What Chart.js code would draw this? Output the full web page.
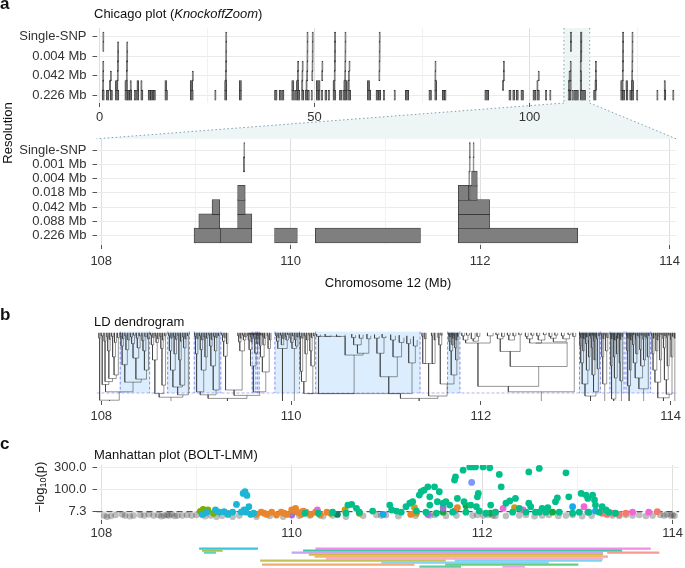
<!DOCTYPE html>
<html>
<head>
<meta charset="utf-8">
<script src="https://cdn.jsdelivr.net/npm/chart.js@4.4.1/dist/chart.umd.min.js"></script>
<style>
html, body { margin: 0; padding: 0; background: #fff; }
#fig { position: relative; width: 685px; height: 568px; overflow: hidden;
       font-family: "Liberation Sans", Arial, Helvetica, sans-serif; color: #111; }
#fig canvas { position: absolute; left: 0; }
.txt { position: absolute; white-space: nowrap; line-height: 1; font-size: 13px; }
.lbl { position: absolute; font-weight: bold; font-size: 17px; line-height: 1; }
.rot { position: absolute; width: 80px; text-align: center; white-space: nowrap; line-height: 13px; font-size: 13px;
       font-weight: normal; color: #111; transform-origin: 0 0; transform: rotate(-90deg); }
.rot sub { font-size: 9px; line-height: 0; vertical-align: -2px; }
</style>
</head>
<body>
<div id="fig">
  <canvas id="link" width="685" height="300" style="top:0"></canvas>
  <canvas id="chicagoAll" width="685" height="125" style="top:0"></canvas>
  <canvas id="chicagoZoom" width="685" height="145" style="top:125px"></canvas>
  <canvas id="dendro" width="685" height="125" style="top:300px"></canvas>
  <canvas id="manhattan" width="685" height="115" style="top:425px"></canvas>
  <canvas id="blocks" width="685" height="28" style="top:540px"></canvas>

  <div class="lbl" style="left:0;top:-5px">a</div>
  <div class="txt" style="left:94px;top:6.5px">Chicago plot (<i>KnockoffZoom</i>)</div>
  <div class="rot" style="left:1px;top:173px">Resolution</div>
  <div class="txt" style="left:388px;top:275.5px;transform:translateX(-50%)">Chromosome 12 (Mb)</div>
  <div class="lbl" style="left:0;top:306px">b</div>
  <div class="txt" style="left:94px;top:314.5px">LD dendrogram</div>
  <div class="lbl" style="left:0;top:435px">c</div>
  <div class="txt" style="left:94px;top:447.5px">Manhattan plot (BOLT-LMM)</div>
  <div class="rot" style="left:33px;top:527px">−log<sub>10</sub>(p)</div>
</div>

<script>
// resolution levels, bottom (0) to top (6)
const resLabels = ['0.226 Mb', '0.088 Mb', '0.042 Mb', '0.018 Mb', '0.004 Mb', '0.001 Mb', 'Single-SNP'];
const overviewResTicks = [0, 2, 4, 6];
const zoomResTicks = [0, 1, 2, 3, 4, 5, 6];
const overviewTicks = [0, 25, 50, 75, 100, 125];
const zoomTicks = [108, 109, 110, 111, 112, 113, 114];
const zoomRange = [108, 114];

// whole chromosome 12, discoveries per resolution [start, end] in Mb
const all226 = [[0.6,1.1],[1.6,2.2],[2.5,3.0],[3.7,4.5],[5.9,6.5],[6.5,7.0],[7.0,7.5],[8.1,8.4],[8.6,9.1],[9.6,10.1],
  [11.3,11.9],[11.9,12.4],[12.5,13.0],[15.2,15.8],[21.1,21.8],[26.8,27.1],[29.1,29.6],[32.5,33.0],[40.7,41.3],[41.8,42.3],
  [42.4,42.9],[44.7,45.3],[45.4,46.0],[46.0,46.6],[47.0,47.5],[47.8,48.4],[48.5,48.8],[49.2,49.5],[50.4,50.9],[50.9,51.3],
  [51.6,51.9],[52.4,52.9],[53.2,53.5],[54.3,54.9],[55.8,56.4],[56.6,57.1],[57.1,57.5],[57.7,58.4],[62.3,63.1],[64.3,64.9],
  [64.9,65.4],[66.0,66.3],[68.5,68.8],[71.1,71.9],[76.6,77.2],[77.96,78.4],[79.7,80.3],[80.3,80.6],[89.6,90.5],[95.2,95.7],
  [96.1,96.6],[96.9,97.4],[98.0,98.6],[100.8,101.5],[101.7,102.3],[103.7,104.0],[104.7,105.0],[108.98,109.26],[109.26,109.59],
  [109.83,110.07],[110.26,111.37],[111.77,113.03],[114.9,115.5],[121.2,121.7],[121.7,122.2],[122.5,122.9],[123.3,123.7],
  [123.7,124.2],[124.9,125.2],[129.6,129.9],[131.3,131.7],[133.3,133.6]];
const all088 = [[0.7,0.85],[2.3,2.6],[3.7,4.3],[5.9,6.5],[7.1,7.4],[8.7,9.1],[9.6,9.9],[15.2,15.6],[21.1,21.7],[29.1,29.6],
  [32.5,33.0],[44.7,45.2],[45.8,46.3],[47.0,47.3],[48.0,48.3],[50.4,51.3],[54.3,54.8],[56.8,57.5],[57.7,58.1],[62.3,62.8],
  [77.96,78.4],[93.7,94.0],[101.7,102.0],[109.03,109.25],[109.44,109.59],[111.77,112.10],[115.2,115.6],[121.2,121.8],
  [122.4,122.8],[123.7,124.2],[131.3,131.6]];
const all042 = [[0.72,0.82],[2.5,2.6],[4.1,4.3],[6.2,6.45],[21.55,21.7],[29.25,29.45],[46.0,46.15],[47.05,47.25],[48.15,48.3],
  [49.35,49.5],[51.65,51.8],[54.55,54.7],[57.0,57.15],[57.85,58.0],[64.95,65.1],[77.98,78.1],[93.9,94.0],[102.0,102.15],
  [109.17,109.25],[109.44,109.52],[111.77,112.10],[115.3,115.45],[121.55,121.7],[123.75,123.9]];
const all018 = [[0.74,0.8],[4.15,4.25],[6.25,6.4],[29.3,29.4],[46.05,46.12],[47.1,47.2],[48.2,48.28],[49.4,49.48],[51.7,51.78],
  [54.6,54.68],[57.03,57.1],[58.0,58.1],[64.98,65.05],[78.0,78.05],[93.9,93.97],[109.44,109.52],[111.77,111.97],[115.3,115.4],
  [121.6,121.65],[123.78,123.85]];
const all004 = [[4.18,4.22],[6.3,6.35],[29.32,29.36],[48.22,48.26],[49.42,49.46],[54.62,54.66],[57.05,57.09],[65.0,65.04],
  [111.88,111.89],[111.91,111.97],[121.61,121.64],[123.8,123.84]];
const all001 = [[0.75,0.78],[4.19,4.21],[6.31,6.33],[29.33,29.35],[48.23,48.25],[49.43,49.45],[54.63,54.65],[57.06,57.08],
  [65.01,65.03],[109.50,109.515],[111.885,111.89],[111.925,111.93],[121.62,121.63],[123.81,123.82]];
const allSnp = [[0.76,0.77],[29.335,29.345],[48.235,48.245],[49.435,49.445],[54.635,54.645],[57.065,57.075],[65.015,65.025],
  [109.505,109.508],[111.886,111.889],[111.926,111.929],[121.622,121.627],[123.812,123.817]];

// zoomed region 108-114 Mb
const zoom226 = [[108.98,109.26],[109.26,109.59],[109.83,110.07],[110.26,111.37],[111.77,113.03]];
const zoom088 = [[109.03,109.25],[109.44,109.59],[111.77,112.10]];
const zoom042 = [[109.17,109.25],[109.44,109.52],[111.77,112.10]];
const zoom018 = [[109.44,109.52],[111.77,111.88],[111.88,111.89],[111.89,111.97]];
const zoom004 = [[111.88,111.89],[111.91,111.97]];
const zoom001 = [[109.50,109.515],[111.885,111.89],[111.925,111.93]];
const zoomSnp = [[109.505,109.508],[111.886,111.889],[111.926,111.929]];

// LD dendrogram: [x left, x right, height left, height right, merge height]
const dendroLinks = [
  [107.975,107.99,0,0,0.09],[108.00,108.02,0,0,0.05],[108.03,108.05,0,0,0.14],[108.06,108.075,0,0,0.07],
  [108.085,108.10,0,0,0.11],[108.11,108.13,0,0,0.06],[108.14,108.16,0,0,0.16],[108.17,108.19,0,0,0.08],
  [108.068,108.093,0.07,0.11,0.30],[108.12,108.15,0.06,0.16,0.40],[108.135,108.18,0.40,0.08,0.70],
  [108.08,108.158,0.30,0.70,0.76],[108.04,108.119,0.14,0.76,0.81],[108.01,108.08,0.05,0.81,0.86],
  [108.20,108.215,0,0,0.06],[108.225,108.24,0,0,0.10],[108.25,108.27,0,0,0.05],[108.28,108.30,0,0,0.12],
  [108.31,108.33,0,0,0.07],[108.34,108.36,0,0,0.04],[108.37,108.39,0,0,0.09],[108.40,108.42,0,0,0.05],
  [108.43,108.45,0,0,0.13],[108.46,108.48,0,0,0.06],[108.49,108.505,0,0,0.10],
  [108.208,108.233,0.06,0.10,0.22],[108.26,108.29,0.05,0.12,0.28],[108.32,108.35,0.07,0.04,0.18],
  [108.38,108.41,0.09,0.05,0.25],[108.44,108.47,0.13,0.06,0.30],[108.22,108.275,0.22,0.28,0.53],
  [108.335,108.395,0.18,0.25,0.42],[108.455,108.498,0.30,0.10,0.62],[108.365,108.477,0.42,0.62,0.77],
  [108.248,108.421,0.53,0.77,0.82],[108.045,108.335,0.86,0.82,0.98],[107.983,108.19,0.09,0.98,1.12],
  [108.52,108.535,0,0,0.04],[108.545,108.56,0,0,0.08],[108.57,108.585,0,0,0.05],[108.595,108.61,0,0,0.10],
  [108.62,108.635,0,0,0.06],[108.645,108.66,0,0,0.12],[108.67,108.685,0,0,0.05],
  [108.528,108.553,0.04,0.08,0.20],[108.578,108.603,0.05,0.10,0.16],[108.628,108.653,0.06,0.12,0.26],
  [108.54,108.59,0.20,0.16,0.45],[108.64,108.678,0.26,0.05,0.87],[108.565,108.66,0.45,0.87,1.01],
  [108.71,108.725,0,0,0.05],[108.735,108.75,0,0,0.09],[108.76,108.775,0,0,0.06],[108.785,108.80,0,0,0.11],
  [108.81,108.825,0,0,0.05],[108.835,108.85,0,0,0.14],[108.86,108.875,0,0,0.07],[108.885,108.90,0,0,0.10],
  [108.91,108.925,0,0,0.05],
  [108.718,108.743,0.05,0.09,0.30],[108.768,108.793,0.06,0.11,0.35],[108.818,108.843,0.05,0.14,0.45],
  [108.868,108.893,0.07,0.10,0.25],[108.73,108.78,0.30,0.35,0.62],[108.83,108.88,0.45,0.25,0.87],
  [108.755,108.855,0.62,0.87,0.90],[108.805,108.918,0.90,0.05,1.03],[108.61,108.86,1.01,1.03,1.07],
  [108.087,108.735,1.12,1.07,1.30],
  [108.985,109.00,0,0,0.06],[109.01,109.025,0,0,0.10],[109.035,109.05,0,0,0.05],[109.06,109.075,0,0,0.12],
  [109.085,109.10,0,0,0.07],[109.11,109.125,0,0,0.09],[109.135,109.15,0,0,0.04],[109.16,109.175,0,0,0.11],
  [109.185,109.20,0,0,0.06],[109.21,109.225,0,0,0.08],[109.235,109.25,0,0,0.05],
  [108.993,109.018,0.06,0.10,0.35],[109.043,109.068,0.05,0.12,0.28],[109.093,109.118,0.07,0.09,0.40],
  [109.143,109.168,0.04,0.11,0.22],[109.193,109.218,0.06,0.08,0.30],[109.055,109.105,0.28,0.40,0.62],
  [109.155,109.205,0.22,0.30,0.55],[109.18,109.243,0.55,0.05,0.95],[109.005,109.08,0.35,0.62,0.98],
  [109.043,109.21,0.98,0.95,1.03],
  [109.27,109.285,0,0,0.04],[109.295,109.31,0,0,0.08],[109.32,109.335,0,0,0.18],[109.44,109.455,0,0,0.05],
  [109.465,109.48,0,0,0.09],[109.49,109.505,0,0,0.04],[109.515,109.53,0,0,0.07],
  [109.278,109.303,0.04,0.08,0.14],[109.29,109.328,0.14,0.18,0.39],[109.448,109.473,0.05,0.09,0.15],
  [109.498,109.523,0.04,0.07,0.12],[109.46,109.51,0.15,0.12,0.30],[109.31,109.485,0.39,0.30,0.95],
  [109.545,109.555,0,0,0.05],[109.56,109.57,0,0,0.03],[109.575,109.585,0,0,0.07],[109.59,109.60,0,0,0.04],
  [109.605,109.615,0,0,0.06],[109.62,109.63,0,0,0.03],[109.635,109.645,0,0,0.08],[109.65,109.66,0,0,0.05],
  [109.665,109.675,0,0,0.10],[109.68,109.69,0,0,0.04],[109.70,109.71,0,0,0.06],[109.72,109.735,0,0,0.09],
  [109.75,109.765,0,0,0.05],[109.775,109.79,0,0,0.12],
  [109.55,109.565,0.05,0.03,0.12],[109.58,109.595,0.07,0.04,0.15],[109.61,109.625,0.06,0.03,0.10],
  [109.64,109.655,0.08,0.05,0.18],[109.67,109.685,0.10,0.04,0.22],[109.705,109.728,0.06,0.09,0.20],
  [109.758,109.783,0.05,0.12,0.26],[109.558,109.588,0.12,0.15,0.28],[109.618,109.648,0.10,0.18,0.34],
  [109.678,109.717,0.22,0.20,0.40],[109.573,109.633,0.28,0.34,0.55],[109.698,109.77,0.40,0.26,0.65],
  [109.603,109.734,0.55,0.65,0.98],[109.40,109.67,0.95,0.98,1.04],[109.126,109.535,1.03,1.04,1.09],
  [109.33,108.411,1.09,1.30,1.40],
  [109.84,109.855,0,0,0.05],[109.865,109.88,0,0,0.08],[109.89,109.905,0,0,0.04],[109.915,109.93,0,0,0.10],
  [109.94,109.955,0,0,0.06],[109.965,109.98,0,0,0.03],[109.99,110.005,0,0,0.09],[110.015,110.03,0,0,0.05],
  [110.04,110.055,0,0,0.12],[110.065,110.08,0,0,0.07],
  [109.848,109.873,0.05,0.08,0.14],[109.898,109.923,0.04,0.10,0.20],[109.948,109.973,0.06,0.03,0.12],
  [109.998,110.023,0.09,0.05,0.16],[110.048,110.073,0.12,0.07,0.22],[109.86,109.96,0.14,0.12,0.26],
  [110.01,110.06,0.16,0.22,0.26],[109.91,110.035,0.26,0.26,1.30],
  [110.09,110.105,0,0,0.06],[110.115,110.13,0,0,0.09],[110.14,110.155,0,0,0.05],[110.165,110.18,0,0,0.12],
  [110.19,110.205,0,0,0.04],[110.215,110.23,0,0,0.08],[110.24,110.255,0,0,0.05],
  [110.098,110.123,0.06,0.09,0.64],[110.148,110.173,0.05,0.12,0.35],[110.11,110.16,0.64,0.35,0.81],
  [110.198,110.223,0.04,0.08,0.30],[110.21,110.248,0.30,0.05,0.55],[110.135,110.23,0.81,0.55,1.01],
  [110.27,110.31,0.02,0.03,0.06],[110.36,110.42,0.02,0.04,0.06],[110.48,110.57,0.03,0.03,0.06],
  [110.29,110.39,0.06,0.06,0.06],[110.39,110.525,0.06,0.06,0.06],
  [110.64,110.68,0.02,0.04,0.08],[110.72,110.76,0.03,0.03,0.09],[110.66,110.74,0.08,0.09,0.20],
  [110.80,110.84,0.02,0.05,0.10],[110.70,110.82,0.20,0.10,0.34],[110.57,110.76,0.06,0.34,0.37],
  [110.88,110.93,0.03,0.06,0.09],[110.96,111.00,0.02,0.05,0.08],[110.905,110.98,0.09,0.08,0.34],
  [111.05,111.10,0.03,0.05,0.12],[111.14,111.19,0.04,0.08,0.16],[111.075,111.165,0.12,0.16,0.40],
  [111.22,111.26,0.05,0.10,0.18],[111.29,111.33,0.06,0.12,0.22],[111.24,111.31,0.18,0.22,0.50],
  [110.94,111.12,0.34,0.40,0.73],[110.29,110.665,0.06,0.37,1.01],[111.03,111.275,0.73,0.50,1.01],
  [110.18,110.478,1.01,1.01,1.01],[110.478,111.153,1.01,1.01,1.01],
  [111.38,111.395,0,0,0.06],[111.41,111.425,0,0,0.10],[111.48,111.495,0,0,0.05],[111.51,111.525,0,0,0.12],
  [111.388,111.418,0.06,0.10,0.51],[111.488,111.518,0.05,0.12,0.51],[111.40,111.50,0.51,0.51,0.51],
  [111.55,111.565,0,0,0.08],[111.58,111.595,0,0,0.04],[111.558,111.588,0.08,0.04,0.20],
  [111.66,111.67,0,0,0.04],[111.675,111.685,0,0,0.07],[111.69,111.70,0,0,0.03],[111.705,111.715,0,0,0.09],
  [111.72,111.73,0,0,0.05],[111.74,111.75,0,0,0.12],[111.755,111.765,0,0,0.06],
  [111.665,111.68,0.04,0.07,0.15],[111.695,111.71,0.03,0.09,0.20],[111.725,111.745,0.05,0.12,0.25],
  [111.673,111.703,0.15,0.20,0.30],[111.735,111.76,0.25,0.06,0.45],[111.688,111.748,0.30,0.45,0.70],
  [111.573,111.718,0.20,0.70,0.85],[111.45,111.645,0.51,0.85,1.05],[111.153,111.548,1.01,1.05,1.09],
  [111.80,111.83,0,0,0.05],[111.85,111.88,0,0,0.04],[111.90,111.94,0,0,0.10],[111.96,111.99,0,0,0.06],
  [112.07,112.13,0,0,0.05],[112.16,112.19,0,0,0.03],[112.22,112.25,0,0,0.06],[112.28,112.31,0,0,0.04],
  [112.34,112.37,0,0,0.05],[112.40,112.43,0,0,0.03],[112.47,112.50,0,0,0.06],[112.53,112.56,0,0,0.04],
  [112.59,112.62,0,0,0.05],[112.66,112.69,0,0,0.03],[112.72,112.75,0,0,0.06],[112.78,112.81,0,0,0.04],
  [112.85,112.88,0,0,0.05],[112.92,112.95,0,0,0.03],[112.97,113.00,0,0,0.06],
  [111.815,111.865,0.05,0.04,0.12],[111.92,111.975,0.10,0.06,0.14],[111.84,112.10,0.12,0.05,0.17],
  [112.175,112.235,0.03,0.06,0.10],[112.295,112.355,0.04,0.05,0.12],[112.205,112.415,0.10,0.03,0.31],
  [112.485,112.545,0.06,0.04,0.10],[112.605,112.675,0.05,0.03,0.12],[112.735,112.795,0.06,0.04,0.09],
  [112.865,112.935,0.05,0.03,0.10],[112.515,112.64,0.10,0.12,0.17],[112.765,112.90,0.09,0.10,0.15],
  [112.578,112.91,0.17,0.15,0.17],[112.31,112.91,0.31,0.17,0.56],[111.97,112.61,0.17,0.56,0.89],
  [112.29,112.985,0.89,0.06,0.98],[111.35,112.638,1.09,0.98,1.30],
  [113.04,113.05,0,0,0.05],[113.055,113.065,0,0,0.08],[113.07,113.08,0,0,0.03],[113.085,113.095,0,0,0.10],
  [113.10,113.11,0,0,0.04],[113.115,113.125,0,0,0.07],[113.13,113.14,0,0,0.12],[113.145,113.155,0,0,0.05],
  [113.16,113.17,0,0,0.09],[113.175,113.185,0,0,0.04],[113.19,113.20,0,0,0.14],[113.205,113.215,0,0,0.06],
  [113.22,113.235,0,0,0.10],[113.245,113.255,0,0,0.05],
  [113.045,113.06,0.05,0.08,0.22],[113.075,113.09,0.03,0.10,0.30],[113.105,113.12,0.04,0.07,0.18],
  [113.135,113.15,0.12,0.05,0.40],[113.165,113.18,0.09,0.04,0.25],[113.195,113.21,0.14,0.06,0.45],
  [113.228,113.25,0.10,0.05,0.60],[113.053,113.083,0.22,0.30,0.50],[113.113,113.143,0.18,0.40,0.62],
  [113.173,113.203,0.25,0.45,0.70],[113.068,113.128,0.50,0.62,0.85],[113.188,113.239,0.70,0.60,0.98],
  [113.098,113.213,0.85,0.98,1.05],
  [113.27,113.28,0,0,0.06],[113.29,113.30,0,0,0.10],[113.31,113.32,0,0,0.04],[113.33,113.345,0,0,0.08],
  [113.275,113.295,0.06,0.10,0.40],[113.315,113.338,0.04,0.08,0.30],[113.285,113.327,0.40,0.30,0.85],
  [113.156,113.306,1.05,0.85,1.25],
  [113.365,113.375,0,0,0.06],[113.38,113.39,0,0,0.10],[113.395,113.405,0,0,0.04],[113.41,113.42,0,0,0.12],
  [113.425,113.435,0,0,0.05],[113.44,113.45,0,0,0.09],[113.455,113.465,0,0,0.03],[113.47,113.48,0,0,0.11],
  [113.49,113.50,0,0,0.06],
  [113.37,113.385,0.06,0.10,0.55],[113.40,113.415,0.04,0.12,0.40],[113.43,113.445,0.05,0.09,0.35],
  [113.46,113.475,0.03,0.11,0.50],[113.408,113.438,0.40,0.35,0.75],[113.468,113.495,0.50,0.06,0.80],
  [113.378,113.423,0.55,0.75,1.10],[113.40,113.482,1.10,0.80,1.14],
  [113.535,113.545,0,0,0.05],[113.55,113.56,0,0,0.09],[113.565,113.575,0,0,0.04],[113.58,113.59,0,0,0.12],
  [113.595,113.605,0,0,0.06],[113.61,113.62,0,0,0.03],[113.63,113.64,0,0,0.10],[113.65,113.66,0,0,0.05],
  [113.67,113.68,0,0,0.08],[113.69,113.70,0,0,0.04],[113.71,113.72,0,0,0.11],[113.73,113.74,0,0,0.06],
  [113.75,113.76,0,0,0.09],[113.77,113.78,0,0,0.05],
  [113.54,113.555,0.05,0.09,0.30],[113.57,113.585,0.04,0.12,0.62],[113.60,113.615,0.06,0.03,0.20],
  [113.635,113.655,0.10,0.05,0.35],[113.675,113.695,0.08,0.04,0.28],[113.715,113.735,0.11,0.06,0.45],
  [113.755,113.775,0.09,0.05,0.40],[113.608,113.645,0.20,0.35,0.50],[113.685,113.725,0.28,0.45,0.55],
  [113.627,113.705,0.50,0.55,0.75],[113.666,113.765,0.75,0.40,0.93],[113.548,113.578,0.30,0.62,0.88],
  [113.563,113.716,0.88,0.93,1.20],[113.441,113.64,1.14,1.20,1.35],
  [113.80,113.81,0,0,0.05],[113.82,113.83,0,0,0.09],[113.84,113.85,0,0,0.04],[113.86,113.87,0,0,0.12],
  [113.88,113.89,0,0,0.06],[113.90,113.91,0,0,0.03],[113.92,113.93,0,0,0.10],[113.94,113.95,0,0,0.05],
  [113.96,113.97,0,0,0.08],[113.98,113.99,0,0,0.04],[114.00,114.01,0,0,0.11],[114.02,114.03,0,0,0.06],
  [114.04,114.05,0,0,0.09],
  [113.805,113.825,0.05,0.09,0.35],[113.845,113.865,0.04,0.12,0.30],[113.885,113.905,0.06,0.03,0.45],
  [113.925,113.945,0.10,0.05,0.25],[113.965,113.985,0.08,0.04,0.55],[114.005,114.025,0.11,0.06,0.40],
  [113.815,113.855,0.35,0.30,0.62],[113.835,113.895,0.62,0.45,0.82],[113.935,113.975,0.25,0.55,0.78],
  [113.955,114.015,0.78,0.40,1.02],[113.865,113.985,0.82,1.02,1.08],[113.925,114.045,1.08,0.09,1.25]
];
// LD blocks (shaded) and the cut height
const ldBlocks = [[108.20,108.51],[108.70,108.93],[108.98,109.26],[109.59,109.63],[109.645,109.665],
  [109.83,110.09],[110.26,111.36],[111.65,111.78],[113.04,113.26],[113.36,113.51],[113.53,113.79]];
const cutHeight = 1.0;

// Manhattan plot: significant clusters, -log10(p)
const clusterNames = ['teal','cyan','orange','olive','darkTeal','pink','purple','lavender','gold','olive2','sky','salmon','green'];
const clusterPos = [
  [110.63,110.68,111.03,111.05,111.20,111.24,111.27,111.34,111.36,111.39,111.43,111.45,111.45,111.50,111.55,111.53,
   111.59,111.62,111.66,111.71,111.72,111.74,111.80,111.81,111.87,111.90,111.93,111.95,111.96,111.88,111.94,112.01,
   112.08,112.09,112.18,112.20,112.25,112.29,112.35,112.39,112.49,112.51,112.49,112.60,112.63,112.69,112.77,112.79,
   112.88,112.91,113.04,113.09,113.11,113.16,113.18,113.19,113.26,113.30,
   110.57,110.71,110.85,111.10,111.15,111.31,111.41,111.52,111.69,111.83,111.97,112.04,112.14,112.32,112.46,112.56,
   112.60,112.67,112.81,112.95,113.02,113.12,113.23,113.33,113.40,110.14,110.28,110.43,110.59],
  [109.06,109.11,109.20,109.24,109.29,109.33,109.38,109.42,109.49,109.51,109.53,109.55,109.50,109.52,109.57,109.47,109.60],
  [109.63,109.68,109.71,109.74,109.79,109.84,109.89,109.92,109.95,110.00,110.04,110.06,110.10,110.12,110.15,110.20,
   110.25,110.30,110.37,111.25,111.74],
  [109.04,109.07,109.12,109.18,110.41],
  [109.07,109.33,110.48],
  [110.27,112.14,112.22,112.43,113.07,113.58,113.75],
  [110.00,111.43,111.59,113.11],
  [111.89],
  [110.56,111.29,111.31,112.34],
  [110.71],
  [110.96,111.71,112.95,113.19],
  [113.26,113.31,113.37,113.44,113.51,113.84],
  [111.59,111.83,112.09,112.74]
];
const clusterLogP = [
  [26,14.5,24,10.6,19,30,36,67,86,96,119,58,24,119,86,36,
   30,36,24,172,201,50,268,36,304,304,304,58,76,24,19,304,
   295,24,224,119,30,39,50,14.5,30,19,250,287,14.5,16,36,53,
   240,58,76,67,50,67,43,24,19,10.6,
   4.8,6.5,8.5,8.5,6.5,8.5,6.5,4.8,6.5,6.5,8.5,4.8,6.5,6.5,6.5,6.5,
   6.5,6.5,6.5,4.8,6.5,6.5,6.5,6.5,4.8,4.8,4.8,6.5,24],
  [3.3,6.5,10.6,6.5,7.3,3.3,6.5,26,76,86,65,19,10.6,6.5,3.3,6.5,4.8],
  [3.3,6.5,4.8,3.3,6.5,2.6,6.5,4.8,3.3,10.6,14.5,6.5,3.3,8.5,6.5,3.3,6.5,2.6,6.5,3.3,16],
  [8,12,10.6,4.8,4.8],
  [4.2,4.2,3.3],
  [10.6,6.5,14.5,10.6,19,6.5,6.5],
  [2.6,3.3,16,6.5],
  [152],
  [10.6,16,4.8,16],
  [4.8],
  [3.3,8.5,19,8.5],
  [4.8,3.3,4.8,3.3,4.8,7.3],
  [6.5,22,4.8,6.5]
];
// non-significant SNPs
const nullPos = [108.03,108.06,108.10,108.15,108.22,108.25,108.30,108.34,108.41,108.45,108.50,108.55,108.60,108.63,108.66,
  108.69,108.71,108.74,108.77,108.80,108.85,108.90,108.95,109.00,109.09,109.15,109.21,109.27,109.38,109.45,109.63,109.77,
  109.91,110.08,110.19,110.33,110.43,110.57,110.75,110.89,110.94,110.99,111.12,111.30,111.45,111.50,111.62,111.73,111.90,
  111.95,112.01,112.06,112.11,112.14,112.25,112.39,112.46,112.55,112.63,112.70,112.80,112.88,112.95,113.05,113.15,113.37,
  113.44,113.51,113.58,113.65,113.72,113.79,113.87,113.91,113.94,113.98,114.00,114.02];
const nullLogP = [2.0,1.1,1.6,2.6,3.3,2.0,1.4,2.0,2.6,2.0,3.3,2.0,2.6,1.5,2.0,
  2.6,2.0,3.3,1.6,2.0,2.0,2.6,2.0,2.6,1.5,2.0,1.1,1.8,1.1,2.0,1.1,1.6,
  1.1,1.8,2.0,1.4,2.0,1.1,1.8,2.6,2.0,2.6,1.5,1.8,2.0,2.6,1.6,2.0,2.0,
  2.6,2.0,2.6,2.0,1.6,1.6,2.0,2.6,1.5,2.0,2.6,1.6,2.0,2.6,1.5,1.8,2.0,
  1.6,2.6,2.0,2.6,1.6,2.0,2.6,2.0,3.3,2.0,2.6,1.8];
const mhtTicks = [7.3, 100, 300];
const mhtTickLabels = ['7.3', '100.0', '300.0'];
const threshold = 7.3;

// discovered segments under the Manhattan plot: start, end, row
const segStart = [109.03,110.25,109.06,110.12,109.08,110.00,113.31,110.18,110.24,113.26,110.36,109.67,111.71,110.94,109.69,111.61,111.34,112.21];
const segEnd   = [109.64,113.76,109.27,113.46,109.20,113.26,113.85,113.26,113.25,113.31,113.26,111.61,113.25,112.69,111.28,113.00,111.77,112.44];
const segRow   = [0,0,1,1,2,2,2,3,4,4,5,6,6,7,8,8,9,9];

// ---- styles ----
const clusterColors = ['#00BF8B','#1CB5D4','#E8862F','#7CAE00','#13806A','#F266D9','#A46FDB','#7F96FF','#CF9A0E','#9C9A12','#17A9EE','#F57A6E','#19A83F'];
const segColors = ['#35c6e2','#f28be9','#a9c44a','#3fc9a3','#5fd3bb','#c8a2f5','#f79a91','#dcb441','#ecb766','#f7a39b','#f6a8d6','#c0c555','#7dd3f0','#86d0f3','#f1ab77','#66d07f','#5ccba0','#e8a2ea'];
const PLOT_LEFT = 96.5;
const X0 = 107.95, X1 = 114.07;

Chart.defaults.animation = false;
Chart.defaults.font.family = '"Liberation Sans", Arial, Helvetica, sans-serif';
Chart.defaults.font.size = 13;
Chart.defaults.color = '#333';
Chart.defaults.plugins.legend.display = false;
Chart.defaults.plugins.tooltip.enabled = false;

function toBars(levels) {
  return levels.flatMap((list, lvl) => list.map(([s, e]) => ({ x: [s, e], y: lvl })));
}

function xAxis(min, max, ticks, major, height, pad, onArea) {
  return {
    type: 'linear', min, max, offset: false,
    afterBuildTicks: a => { a.ticks = ticks.map(v => ({ value: v })); },
    afterFit: a => { a.height = height; },
    ticks: { autoSkip: false, maxRotation: 0, padding: pad, callback: v => (v % major === 0 ? String(v) : '') },
    grid: {
      offset: false,
      drawOnChartArea: onArea,
      color: c => (c.tick && c.tick.value % major === 0 ? '#dedede' : '#f1f1f1'),
      tickColor: c => (c.tick && c.tick.value % major === 0 ? '#555' : 'rgba(0,0,0,0)'),
      tickLength: 4
    },
    border: { display: false }
  };
}

function resAxis(min, max, ticks) {
  return {
    type: 'linear', min, max, offset: false,
    afterBuildTicks: a => { a.ticks = ticks.map(v => ({ value: v })); },
    afterFit: a => { a.width = PLOT_LEFT; },
    ticks: { autoSkip: false, padding: 6, callback: v => resLabels[v] },
    grid: { offset: false, color: '#ebebeb', tickColor: '#555', tickLength: 4 },
    border: { display: false }
  };
}

// light box marking the zoomed window on the whole-chromosome plot
const zoomBox = {
  id: 'zoomBox',
  beforeDraw(chart) {
    const { ctx, chartArea: ca, scales: { x } } = chart;
    const xa = x.getPixelForValue(zoomRange[0]), xb = x.getPixelForValue(zoomRange[1]);
    ctx.save();
    ctx.fillStyle = '#edf5f5';
    ctx.fillRect(xa, ca.top, xb - xa, ca.bottom - ca.top);
    ctx.setLineDash([1.5, 2.5]);
    ctx.strokeStyle = '#7f9fb8';
    ctx.lineWidth = 1;
    ctx.beginPath();
    ctx.moveTo(xa, ca.top); ctx.lineTo(xa, ca.bottom);
    ctx.moveTo(xb, ca.top); ctx.lineTo(xb, ca.bottom);
    ctx.stroke();
    ctx.restore();
  }
};

const allChart = new Chart(document.getElementById('chicagoAll'), {
  type: 'bar',
  data: { datasets: [{
    data: toBars([all226, all088, all042, all018, all004, all001, allSnp]),
    backgroundColor: '#6a6a6a', borderColor: '#2a2a2a', borderWidth: 0.6,
    borderSkipped: false, barThickness: 9.73, minBarLength: 1.2
  }] },
  options: {
    indexAxis: 'y', responsive: false,
    layout: { padding: { left: 0, right: 5, top: 28, bottom: 0 } },
    scales: {
      x: xAxis(-0.7, 135, overviewTicks, 50, 22, 3, true),
      y: resAxis(-0.791, 6.914, overviewResTicks)
    }
  },
  plugins: [zoomBox]
});

const zoomChart = new Chart(document.getElementById('chicagoZoom'), {
  type: 'bar',
  data: { datasets: [{
    data: toBars([zoom226, zoom088, zoom042, zoom018, zoom004, zoom001, zoomSnp]),
    backgroundColor: '#7f7f7f', borderColor: '#3a3a3a', borderWidth: 0.8,
    borderSkipped: false, barThickness: 15, minBarLength: 1
  }] },
  options: {
    indexAxis: 'y', responsive: false,
    layout: { padding: { left: 0, right: 5, top: 8, bottom: 0 } },
    scales: {
      x: xAxis(X0, X1, zoomTicks, 2, 25, 5, true),
      y: resAxis(-0.667, 6.8, zoomResTicks)
    }
  }
});

// trapezoid joining the window to the zoomed panel
(function drawZoomLink() {
  const ctx = document.getElementById('link').getContext('2d');
  const xa = allChart.scales.x.getPixelForValue(zoomRange[0]);
  const xb = allChart.scales.x.getPixelForValue(zoomRange[1]);
  const y0 = allChart.canvas.offsetTop + allChart.chartArea.bottom;
  const y1 = zoomChart.canvas.offsetTop + zoomChart.chartArea.top;
  const xl = zoomChart.chartArea.left, xr = zoomChart.chartArea.right;
  ctx.fillStyle = '#edf5f5';
  ctx.beginPath();
  ctx.moveTo(xa, y0); ctx.lineTo(xb, y0); ctx.lineTo(xr, y1); ctx.lineTo(xl, y1);
  ctx.closePath(); ctx.fill();
  ctx.setLineDash([1.5, 2.5]);
  ctx.strokeStyle = '#7f9fb8';
  ctx.lineWidth = 1;
  ctx.beginPath();
  ctx.moveTo(xa, y0); ctx.lineTo(xl, y1);
  ctx.moveTo(xb, y0); ctx.lineTo(xr, y1);
  ctx.stroke();
})();

// dendrogram
const dendroPoints = [];
dendroLinks.forEach(([x1, x2, h1, h2, hm]) => {
  dendroPoints.push({ x: x1, y: h1 }, { x: x1, y: hm }, { x: x2, y: hm }, { x: x2, y: h2 }, { x: x2, y: null });
});
const blockEdges = [];
ldBlocks.forEach(([s, e]) => {
  blockEdges.push({ x: s, y: -0.02 }, { x: s, y: cutHeight }, { x: s, y: null },
                  { x: e, y: -0.02 }, { x: e, y: cutHeight }, { x: e, y: null });
});

const blockFill = {
  id: 'blockFill',
  beforeDatasetsDraw(chart) {
    const { ctx, scales: { x, y } } = chart;
    ctx.save();
    ctx.fillStyle = 'rgba(196,226,251,0.6)';
    ldBlocks.forEach(([s, e]) => {
      const xa = x.getPixelForValue(s), xb = x.getPixelForValue(e);
      const ya = y.getPixelForValue(-0.02), yb = y.getPixelForValue(cutHeight);
      ctx.fillRect(xa, ya, xb - xa, yb - ya);
    });
    ctx.restore();
  }
};

new Chart(document.getElementById('dendro'), {
  type: 'line',
  data: { datasets: [
    { data: dendroPoints, borderColor: 'rgba(35,35,35,0.6)', borderWidth: 0.8, pointRadius: 0, spanGaps: false, fill: false },
    { data: blockEdges, borderColor: '#6a6ff0', borderWidth: 0.8, borderDash: [3, 2], pointRadius: 0, spanGaps: false, fill: false },
    { data: [{ x: X0, y: cutHeight }, { x: X1, y: cutHeight }], borderColor: '#9a9cf2', borderWidth: 0.8,
      borderDash: [3, 2], pointRadius: 0, fill: false }
  ] },
  options: {
    responsive: false,
    layout: { padding: { left: PLOT_LEFT, right: 5, top: 31, bottom: 0 } },
    scales: {
      x: xAxis(X0, X1, zoomTicks, 2, 24, 4, false),
      y: { type: 'linear', reverse: true, min: -0.03, max: 1.133, display: false }
    }
  },
  plugins: [blockFill]
});

// Manhattan plot (sqrt-scaled -log10 p)
const mhtDatasets = clusterNames.map((name, i) => ({
  label: name,
  data: clusterPos[i].map((p, j) => ({ x: p, y: Math.sqrt(clusterLogP[i][j]) })),
  backgroundColor: clusterColors[i], borderColor: clusterColors[i], borderWidth: 0,
  pointRadius: 3.4, order: 1
}));
mhtDatasets.push({
  label: 'threshold',
  data: [{ x: X0, y: Math.sqrt(threshold) }, { x: X1, y: Math.sqrt(threshold) }],
  showLine: true, borderColor: '#333', borderWidth: 1, borderDash: [6, 4], pointRadius: 0, order: 5
});
mhtDatasets.push({
  label: 'null',
  data: nullPos.map((p, j) => ({ x: p, y: Math.sqrt(nullLogP[j]) })),
  backgroundColor: 'rgba(40,40,40,0.3)', borderWidth: 0, pointRadius: 3.3, order: 10
});

new Chart(document.getElementById('manhattan'), {
  type: 'scatter',
  data: { datasets: mhtDatasets },
  options: {
    responsive: false,
    layout: { padding: { left: 0, right: 5, top: 40, bottom: 0 } },
    scales: {
      x: xAxis(X0, X1, zoomTicks, 2, 20, 2, true),
      y: {
        type: 'linear', min: -0.03, max: 18.08,
        afterBuildTicks: a => { a.ticks = mhtTicks.map(v => ({ value: Math.sqrt(v) })); },
        afterFit: a => { a.width = PLOT_LEFT; },
        ticks: { autoSkip: false, padding: 6, callback: (v, i) => mhtTickLabels[i] },
        grid: { color: '#ebebeb', tickColor: '#555', tickLength: 4 },
        border: { display: false }
      }
    }
  }
});

// discovered segments
new Chart(document.getElementById('blocks'), {
  type: 'bar',
  data: { datasets: [{
    data: segStart.map((s, i) => ({ x: [s, segEnd[i]], y: segRow[i] })),
    backgroundColor: segColors, borderWidth: 0, borderSkipped: false, barThickness: 1.6
  }] },
  options: {
    indexAxis: 'y', responsive: false,
    layout: { padding: { left: PLOT_LEFT, right: 5, top: 7, bottom: 0 } },
    scales: {
      x: { type: 'linear', min: X0, max: X1, display: false },
      y: { type: 'linear', min: -0.85, max: 9.65, reverse: true, offset: false, display: false }
    }
  }
});
</script>
</body>
</html>
